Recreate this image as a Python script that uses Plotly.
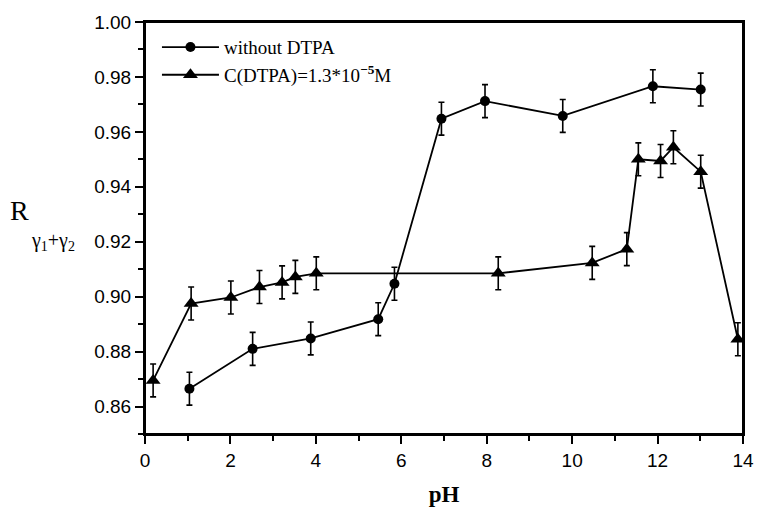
import plotly.graph_objects as go

# without DTPA
ph_a = [1.04, 2.52, 3.88, 5.46, 5.84, 6.94, 7.96, 9.78, 11.89, 13.01]
r_a = [0.8665, 0.8810, 0.8848, 0.8918, 0.9047, 0.9648, 0.9712, 0.9658, 0.9766, 0.9754]
err_a = [0.006, 0.006, 0.006, 0.006, 0.006, 0.006, 0.006, 0.006, 0.006, 0.006]

# C(DTPA)=1.3*10^-5 M
ph_b = [0.19, 1.08, 2.01, 2.68, 3.21, 3.52, 4.01, 8.27, 10.47, 11.28, 11.55, 12.07, 12.37, 13.01, 13.88]
r_b = [0.8695, 0.8975, 0.8997, 0.9035, 0.9052, 0.9072, 0.9085, 0.9085, 0.9123, 0.9173, 0.9500, 0.9494, 0.9544, 0.9455, 0.8845]
err_b = [0.006] * 15

names = ["without DTPA", "C(DTPA)=1.3*10<sup><b>\u22125</b></sup>M"]
x_ticks = [0, 2, 4, 6, 8, 10, 12, 14]

fig = go.Figure()
fig.add_trace(go.Scatter(
    x=ph_a, y=r_a, name=names[0], mode="lines+markers",
    line=dict(color="black", width=1.8),
    marker=dict(symbol="circle", size=10, color="black"),
    error_y=dict(type="data", array=err_a, color="black", thickness=1.6, width=3),
))
fig.add_trace(go.Scatter(
    x=ph_b, y=r_b, name=names[1], mode="lines+markers",
    line=dict(color="black", width=1.8),
    marker=dict(symbol="triangle-up", size=13, color="black"),
    error_y=dict(type="data", array=err_b, color="black", thickness=1.6, width=3),
))

axis_common = dict(
    showgrid=False, zeroline=False, showline=True, linecolor="black", linewidth=2,
    mirror=True, ticks="outside", ticklen=8, tickwidth=2, tickcolor="black",
    tickfont=dict(family="Liberation Sans, Arial, sans-serif", size=19, color="black"),
)

fig.update_xaxes(
    range=[0, 14], tickvals=x_ticks, ticktext=[str(v) for v in x_ticks],
    minor=dict(dtick=1, tick0=0, ticks="outside", ticklen=5, tickwidth=2, tickcolor="black"),
    title=dict(text="<b>pH</b>", font=dict(family="Liberation Serif, Times New Roman, serif", size=23, color="black"), standoff=16),
    **axis_common,
)
fig.update_yaxes(
    range=[0.85, 1.00], dtick=0.02, tick0=0, tickformat=".2f",
    minor=dict(dtick=0.01, tick0=0, ticks="outside", ticklen=5, tickwidth=2, tickcolor="black"),
    **axis_common,
)

# plot frame
fig.add_shape(type="rect", xref="paper", yref="paper", x0=0, y0=0, x1=1, y1=1,
              line=dict(color="black", width=2), layer="above")

L, R, T, B = 145, 14, 17, 75
W, H = 766, 515
pw, ph = W - L - R, H - T - B

def px2paper(x, y):
    return (x - L) / pw, (H - B - y) / ph

ax, ay = px2paper(6, 211)
fig.add_annotation(x=ax, y=ay, xref="paper", yref="paper", text="R", showarrow=False,
                   font=dict(family="Liberation Serif, Times New Roman, serif", size=28, color="black"),
                   xanchor="left", yanchor="middle")
ax, ay = px2paper(27, 242)
fig.add_annotation(x=ax, y=ay, xref="paper", yref="paper", text="\u03b3<sub>1</sub>+\u03b3<sub>2</sub>", showarrow=False,
                   font=dict(family="Liberation Serif, Times New Roman, serif", size=20, color="black"),
                   xanchor="left", yanchor="middle")

fig.update_layout(
    width=W, height=H,
    margin=dict(l=L, r=R, t=T, b=B),
    plot_bgcolor="white", paper_bgcolor="white",
    showlegend=True,
    legend=dict(x=0.02, y=0.985, xanchor="left", yanchor="top",
                bgcolor="rgba(0,0,0,0)", itemwidth=57, tracegroupgap=2,
                font=dict(family="Liberation Serif, Times New Roman, serif", size=19, color="black")),
)

fig.write_html("out.html", config={"displayModeBar": False},
               post_script="document.body.style.margin='0';document.body.style.overflow='hidden';")
